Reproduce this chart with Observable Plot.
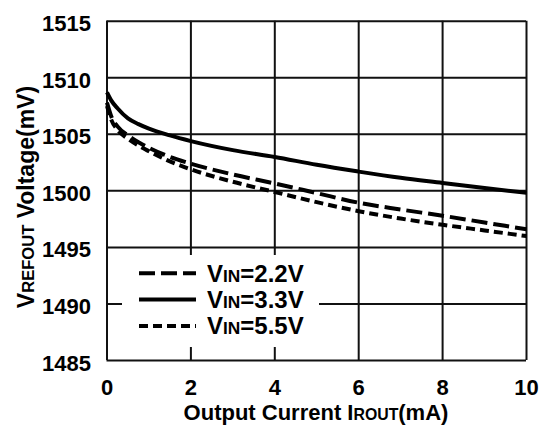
<!DOCTYPE html>
<html>
<head>
<meta charset="utf-8">
<script src="https://cdn.jsdelivr.net/npm/d3@7"></script>
<script src="https://cdn.jsdelivr.net/npm/@observablehq/plot@0.6"></script>
<style>
  html, body { margin: 0; padding: 0; background: #fff; }
  #chart { width: 545px; height: 432px; }
</style>
</head>
<body>
<div id="chart"></div>
<script>
// Output current (mA)
const current = [0, 0.1, 0.25, 0.5, 0.75, 1, 1.5, 2, 3, 4, 5, 6, 7, 8, 9, 10];
// VREFOUT (mV) per input voltage
const vin22 = [1507.8, 1506.6, 1505.7, 1504.9, 1504.3, 1503.8, 1503.0, 1502.4, 1501.45, 1500.65, 1499.8, 1498.95, 1498.35, 1497.8, 1497.2, 1496.6];
const vin33 = [1508.7, 1508.0, 1507.3, 1506.4, 1505.9, 1505.5, 1504.9, 1504.4, 1503.6, 1503.0, 1502.3, 1501.7, 1501.15, 1500.7, 1500.25, 1499.83];
const vin55 = [1507.5, 1506.3, 1505.4, 1504.6, 1504.0, 1503.5, 1502.6, 1501.9, 1500.8, 1499.9, 1499.0, 1498.2, 1497.55, 1497.0, 1496.5, 1496.0];
const seriesNames = ["2.2V", "3.3V", "5.5V"];
const xTicks = [0, 2, 4, 6, 8, 10];
const yTicks = [1485, 1490, 1495, 1500, 1505, 1510, 1515];

const dashes = {"2.2V": "16,6", "3.3V": null, "5.5V": "9,5"};
const seriesValues = {"2.2V": vin22, "3.3V": vin33, "5.5V": vin55};

const FONT = "'Liberation Sans', Arial, Helvetica, sans-serif";

const lineMarks = seriesNames.map(name => {
  const rows = current.map((c, i) => ({x: c, y: seriesValues[name][i]}));
  return Plot.line(rows, {
    x: "x", y: "y", stroke: "#000", strokeWidth: 4,
    strokeDasharray: dashes[name], strokeLinecap: "butt", curve: "monotone-x"
  });
});

const plot = Plot.plot({
  width: 545,
  height: 432,
  marginLeft: 106.5,
  marginRight: 19,
  marginTop: 20.7,
  marginBottom: 72,
  style: {fontFamily: FONT, fontWeight: "bold", background: "#fff", color: "#000"},
  x: {domain: [0, 10], ticks: xTicks},
  y: {domain: [1485, 1515], ticks: yTicks},
  marks: [
    Plot.gridX(xTicks, {stroke: "#111", strokeOpacity: 1, strokeWidth: 2}),
    Plot.gridY(yTicks, {stroke: "#111", strokeOpacity: 1, strokeWidth: 2}),
    Plot.axisX(xTicks, {tickSize: 0, tickPadding: 19, fontSize: 22, label: null, tickFormat: d => String(d)}),
    Plot.axisY(yTicks, {tickSize: 0, tickPadding: 16, fontSize: 22, label: null, dy: 3, tickFormat: d => String(d)}),
    ...lineMarks
  ]
});

document.getElementById("chart").appendChild(plot);
const svg = d3.select(plot);

function richText(sel, parts, size) {
  parts.forEach(([t, small]) => {
    sel.append("tspan").attr("font-size", small ? size * 0.72 : size).text(t);
  });
}

// Legend
const lg = svg.append("g").attr("font-family", FONT).attr("font-weight", "bold");
lg.append("rect").attr("x", 122).attr("y", 255).attr("width", 197).attr("height", 92).attr("fill", "#fff");
const legendRows = [
  {name: "2.2V", y: 273.3, base: 281.5},
  {name: "3.3V", y: 299.5, base: 307.5},
  {name: "5.5V", y: 326, base: 334}
];
legendRows.forEach(r => {
  lg.append("line").attr("x1", 139).attr("x2", 196).attr("y1", r.y).attr("y2", r.y)
    .attr("stroke", "#000").attr("stroke-width", 4)
    .attr("stroke-dasharray", dashes[r.name]);
  const t = lg.append("text").attr("x", 207).attr("y", r.base).attr("font-size", 24)
    .attr("text-anchor", "start").attr("fill", "#000");
  richText(t, [["V", false], ["IN", true], ["=" + r.name, false]], 24);
});

// Axis titles
const xt = svg.append("text").attr("x", 316).attr("y", 419.5).attr("text-anchor", "middle")
  .attr("font-family", FONT).attr("font-weight", "bold").attr("fill", "#000");
richText(xt, [["Output Current I", false], ["ROUT", true], ["(mA)", false]], 22);

const yt = svg.append("text").attr("transform", "translate(34,197) rotate(-90)").attr("text-anchor", "middle")
  .attr("font-family", FONT).attr("font-weight", "bold").attr("fill", "#000");
richText(yt, [["V", false], ["REFOUT", true], [" Voltage(mV)", false]], 23);
</script>
</body>
</html>
